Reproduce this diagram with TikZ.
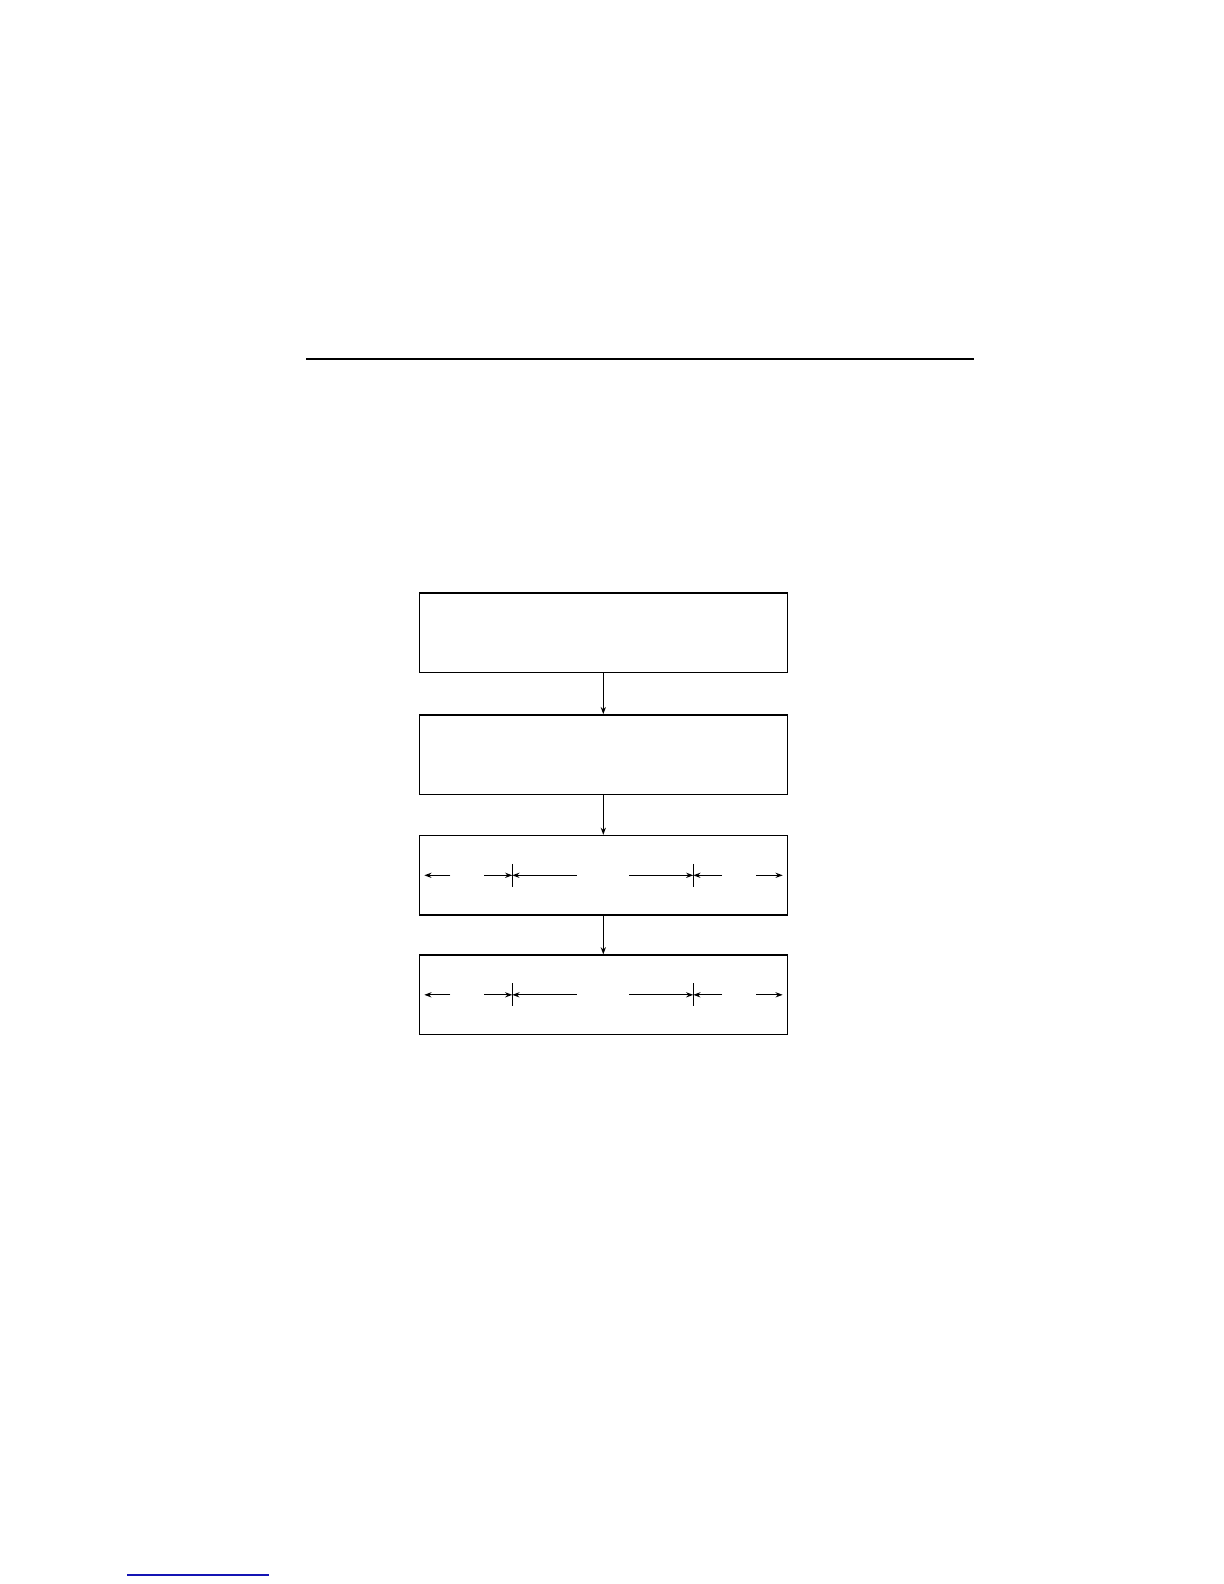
\documentclass[tikz,border=0pt]{standalone}
\usetikzlibrary{arrows.meta, positioning, calc}
\definecolor{linkblue}{RGB}{20,20,180}

\begin{document}
\begin{tikzpicture}[
    x=0.5bp, y=-0.5bp,
    node distance=20.5bp,
    every node/.style={rectangle, draw, line width=0.75bp, minimum width=184bp, minimum height=39.7bp},
    link/.style={-{Stealth[length=3.6bp, width=2.6bp]}, line width=0.55bp},
    dim/.style={line width=0.55bp}
]
\useasboundingbox (0,0) rectangle (1224,1584);

\draw[line width=0.7bp] (306,359) -- (974,359);

\node (s1) at (603.3,632.7) {};
\node[below=of s1] (s2) {};
\node[below=19.9bp of s2] (s3) {};
\node[below=19.3bp of s3] (s4) {};

\draw[link] (s1) -- (s2);
\draw[link] (s2) -- (s3);
\draw[link] (s3) -- (s4);

% dimension lines inside the two lower boxes
\foreach \s in {s3,s4} {
  \draw[dim] ($(\s)+(-91,-11.5)$) -- ($(\s)+(-91,11.5)$);
  \draw[dim] ($(\s)+(90,-11.5)$) -- ($(\s)+(90,11.5)$);
  \draw[link] ($(\s)+(-153,0)$) -- ($(\s)+(-179,0)$);
  \draw[link] ($(\s)+(-119,0)$) -- ($(\s)+(-91,0)$);
  \draw[link] ($(\s)+(-26.6,0)$) -- ($(\s)+(-91,0)$);
  \draw[link] ($(\s)+(25.7,0)$) -- ($(\s)+(90,0)$);
  \draw[link] ($(\s)+(118.7,0)$) -- ($(\s)+(90,0)$);
  \draw[link] ($(\s)+(152.7,0)$) -- ($(\s)+(179.4,0)$);
}

\draw[linkblue, line width=0.6bp] (127,1575) -- (269,1575);

\end{tikzpicture}
\end{document}
